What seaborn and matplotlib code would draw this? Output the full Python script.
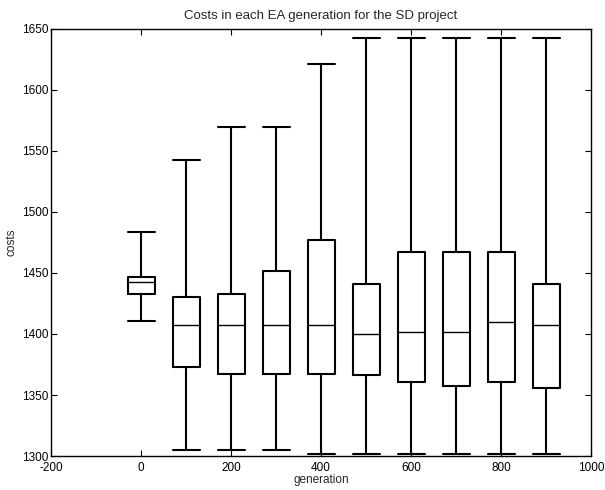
import numpy as np
import pandas as pd
import matplotlib
matplotlib.use("Agg")
import matplotlib.pyplot as plt
import seaborn as sns

# Five-number summaries (min, q1, median, q3, max)
generations = [0, 100, 200, 300, 400, 500, 600, 700, 800, 900]
cost_min    = [1411, 1305, 1305, 1305, 1302, 1302, 1302, 1302, 1302, 1302]
cost_q1     = [1433, 1373, 1367, 1367, 1367, 1366, 1361, 1357, 1361, 1356]
cost_median = [1443, 1407, 1407, 1407, 1407, 1400, 1402, 1402, 1410, 1407]
cost_q3     = [1447, 1430, 1433, 1452, 1477, 1441, 1467, 1467, 1467, 1441]
cost_max    = [1484, 1543, 1570, 1570, 1621, 1643, 1643, 1643, 1643, 1643]

rows = []
for g, a, b, c, d, e in zip(generations, cost_min, cost_q1, cost_median, cost_q3, cost_max):
    for v in (a, b, c, d, e):
        rows.append({"generation": g, "costs": v})
df = pd.DataFrame(rows)

sns.set_theme(style="ticks")
plt.rcParams['font.family'] = ['Liberation Sans', 'DejaVu Sans']
plt.rcParams['axes.unicode_minus'] = False

fig = plt.figure(figsize=(6.05, 4.9), dpi=100)
ax = fig.add_axes([51/605, 1 - 456/490, (591 - 51)/605, (456 - 29)/490])

box_w = 0.6
sns.boxplot(data=df, x="generation", y="costs", native_scale=True, whis=np.inf,
            width=box_w, fill=False, color="black", linewidth=1.5,
            capwidths=60, ax=ax,
            medianprops=dict(linewidth=1.0, color="black"))

ax.set_xlim(-200, 1000)
ax.set_ylim(1300, 1650)
ax.set_xticks([-200, 0, 200, 400, 600, 800, 1000])
ax.set_yticks([1300, 1350, 1400, 1450, 1500, 1550, 1600, 1650])
ax.tick_params(direction="in", top=True, right=True, labelsize=8.5, length=4,
               width=0.8, colors="black")
ax.tick_params(axis="x", pad=4)
ax.tick_params(axis="y", pad=2)
for s in ax.spines.values():
    s.set_visible(True)
    s.set_color("black")
    s.set_linewidth(1.0)
ax.grid(False)
ax.set_xlabel("generation", fontsize=8.5, labelpad=0)
ax.set_ylabel("costs", fontsize=8.5, labelpad=3)
ax.set_title("Costs in each EA generation for the SD project", fontsize=9.5, pad=7)

fig.savefig("out.png", dpi=100, facecolor="white")
